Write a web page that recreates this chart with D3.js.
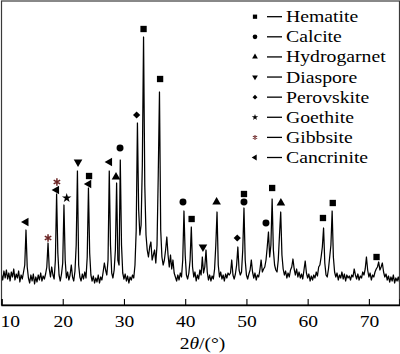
<!DOCTYPE html>
<html>
<head>
<meta charset="utf-8">
<script src="https://cdn.jsdelivr.net/npm/d3@7/dist/d3.min.js"></script>
<style>
  html, body { margin: 0; padding: 0; background: #fff; }
  svg { display: block; }
</style>
</head>
<body>
<div id="chart"></div>
<script>
// XRD pattern, 2theta 10..75 deg sampled every 0.2 deg (intensity in a.u.)
const thetaStart = 10;
const thetaStep = 0.2;
const intensity = [
  30, 25, 34, 27, 35,   26, 32, 24, 33, 28,   36, 25, 31, 27, 34,   23, 30, 26, 33, 40,   // 10-13.8
  75, 38, 27, 22, 30,   24, 31, 21, 28, 23,   30, 25, 32, 24, 29,   26, 31, 38, 62, 36,   // 14-17.8
  28, 38, 30, 26, 45,   111, 52, 30, 24, 31,  42, 100, 45, 27, 33,  25, 30, 40, 28, 24,   // 18-21.8
  34, 60, 134, 40, 28,  24, 31, 26, 33, 27,   48, 117, 52, 30, 24,  29, 22, 27, 23, 30,   // 22-25.8
  22, 28, 25, 33, 42,   35, 30, 45, 134, 60,  32, 27, 35, 55, 122,  45, 40, 145, 60, 32,  // 26-29.8
  26, 31, 24, 29, 22,   28, 25, 30, 27, 40,   75, 182, 95, 70, 80,  140, 268, 120, 70, 55, // 30-33.8
  48, 58, 63, 45, 50,   55, 42, 60, 130, 213, 75, 48, 40, 45, 55,   68, 50, 38, 50, 36,   // 34-37.8
  45, 32, 28, 24, 30,   25, 32, 28, 45, 94,   50, 30, 26, 32, 45,   78, 38, 28, 33, 24,   // 38-41.8
  30, 26, 35, 30, 48,   32, 38, 55, 33, 25,   30, 24, 29, 26, 36,   60, 93, 40, 28, 33,   // 42-45.8
  26, 30, 24, 31, 27,   32, 30, 32, 45, 30,   26, 31, 40, 58, 35,   30, 33, 55, 97, 45,   // 46-49.8
  30, 26, 31, 35, 45,   33, 27, 32, 25, 30,   28, 35, 45, 33, 36,   38, 45, 58, 73, 48,   // 50-53.8
  60, 106, 55, 40, 35,  33, 45, 70, 93, 50,   36, 30, 34, 27, 32,   28, 35, 38, 46, 36,   // 54-57.8
  30, 36, 28, 33, 27,   31, 26, 35, 44, 32,   27, 31, 24, 29, 25,   30, 27, 33, 29, 38,   // 58-61.8
  40, 48, 58, 77, 42,   30, 28, 36, 48, 60,   94, 48, 33, 28, 32,   25, 30, 27, 33, 26,   // 62-65.8
  31, 24, 30, 27, 29,   25, 30, 28, 36, 30,   26, 31, 25, 29, 27,   33, 30, 36, 48, 35,   // 66-69.8
  28, 32, 25, 30, 28,   33, 36, 38, 43, 35,   38, 42, 33, 28, 31,   25, 29, 23, 28, 24,   // 70-73.8
  30, 22, 27, 24, 28,   23                                                                // 74-75
];

// phase labels, in legend order
const phases = ["Hematite", "Calcite", "Hydrogarnet", "Diaspore", "Perovskite", "Goethite", "Gibbsite", "Cancrinite"];

// [2theta, marker height] for each identified reflection
const hematitePeaks = [[24.3, 129], [33.2, 276], [35.9, 226], [41.05, 86], [49.6, 111], [54.2, 117], [62.5, 87], [64.1, 102], [71.25, 48]];
const calcitePeaks = [[29.36, 157], [39.64, 103], [49.6, 103], [53.19, 82]];
const hydrogarnetPeaks = [[28.7, 128], [45.13, 103], [55.63, 102]];
const diasporePeaks = [[22.5, 143], [42.9, 58]];
const perovskitePeaks = [[32.07, 190], [48.5, 67]];
const goethitePeaks = [[20.65, 107]];
const gibbsitePeaks = [[17.6, 67], [19.05, 123]];
const cancrinitePeaks = [[14.0, 83], [19.0, 115], [24.25, 121], [27.65, 143]];

const xTicks = [10, 20, 30, 40, 50, 60, 70];

const W = 400, H = 354;
const margin = { top: 1, right: 0.5, bottom: 49, left: 1.5 };
const serif = "'Liberation Serif', 'Times New Roman', Times, serif";

const svg = d3.select("#chart").append("svg")
  .attr("width", W)
  .attr("height", H)
  .attr("font-family", serif);

const x = d3.scaleLinear()
  .domain([10, 75])
  .range([margin.left, W - margin.right]);

const y = d3.scaleLinear()
  .domain([0, 304])
  .range([H - margin.bottom, margin.top]);

const pattern = intensity.map((v, i) => ({ t: thetaStart + i * thetaStep, v: v }));

// custom asterisk for gibbsite
const asterisk = {
  draw(context, size) {
    const r = Math.sqrt(size) / 2;
    for (let k = 0; k < 3; k++) {
      const a = Math.PI / 2 + k * Math.PI / 3;
      context.moveTo(r * Math.cos(a), r * Math.sin(a));
      context.lineTo(-r * Math.cos(a), -r * Math.sin(a));
    }
  }
};

const phaseStyle = {
  Hematite:    { type: d3.symbolSquare,   size: 40, rot: 0,   stroke: false },
  Calcite:     { type: d3.symbolCircle,   size: 38, rot: 0,   stroke: false },
  Hydrogarnet: { type: d3.symbolTriangle, size: 32, rot: 0,   stroke: false },
  Diaspore:    { type: d3.symbolTriangle, size: 32, rot: 180, stroke: false },
  Perovskite:  { type: d3.symbolSquare,   size: 26, rot: 45,  stroke: false },
  Goethite:    { type: d3.symbolStar,     size: 28, rot: 0,   stroke: false },
  Gibbsite:    { type: asterisk,          size: 56, rot: 0,   stroke: true },
  Cancrinite:  { type: d3.symbolTriangle, size: 32, rot: -90, stroke: false }
};
const peakTable = {
  Hematite: hematitePeaks, Calcite: calcitePeaks, Hydrogarnet: hydrogarnetPeaks,
  Diaspore: diasporePeaks, Perovskite: perovskitePeaks, Goethite: goethitePeaks,
  Gibbsite: gibbsitePeaks, Cancrinite: cancrinitePeaks
};

function drawSymbol(sel, name, scale) {
  const s = phaseStyle[name];
  sel.attr("d", d3.symbol().type(s.type).size(s.size * scale)())
    .attr("fill", s.stroke ? "none" : "#000")
    .attr("stroke", s.stroke ? "#6b2525" : "none")
    .attr("stroke-width", s.stroke ? 1.5 * Math.sqrt(scale) : 0);
  return s.rot;
}

// pattern line
const line = d3.line()
  .x(d => x(d.t))
  .y(d => y(d.v));

svg.append("path")
  .datum(pattern)
  .attr("fill", "none")
  .attr("stroke", "#000")
  .attr("stroke-width", 1.25)
  .attr("stroke-linejoin", "round")
  .attr("d", line);

// peak markers
phases.forEach(name => {
  svg.append("g").selectAll("path")
    .data(peakTable[name])
    .join("path")
    .each(function (d) {
      const rot = drawSymbol(d3.select(this), name, 1);
      d3.select(this).attr("transform", `translate(${x(d[0])},${y(d[1])}) rotate(${rot})`);
    });
});

// frame
svg.append("rect")
  .attr("x", margin.left)
  .attr("y", margin.top)
  .attr("width", W - margin.left - margin.right)
  .attr("height", H - margin.top - margin.bottom)
  .attr("fill", "none")
  .attr("stroke", "#3a3a3a")
  .attr("stroke-width", 1.2);

// bottom axis with inward ticks
const xAxis = svg.append("g")
  .attr("transform", `translate(0,${H - margin.bottom})`)
  .call(d3.axisBottom(x).tickValues(xTicks).tickSize(-6).tickPadding(10).tickFormat(d3.format("d")))
  .attr("font-family", serif)
  .attr("font-size", 17);

xAxis.select(".domain").attr("stroke", "#000").attr("stroke-width", 1.3);
xAxis.selectAll(".tick line").attr("stroke", "#000").attr("stroke-width", 1.1);
xAxis.selectAll(".tick text")
  .attr("fill", "#000")
  .attr("transform", "scale(1.15,1)");
xAxis.selectAll(".tick text").filter(d => d === 10)
  .attr("text-anchor", "start")
  .attr("x", -margin.left / 1.15);

// axis title
const title = svg.append("text")
  .attr("transform", `translate(${(margin.left + W - margin.right) / 2 + 2},${H - 5}) scale(1.15,1)`)
  .attr("text-anchor", "middle")
  .attr("font-size", 17);
title.append("tspan").text("2");
title.append("tspan").attr("font-style", "italic").text("θ");
title.append("tspan").text("/(°)");

// legend
const legend = svg.append("g");
const rowY = d3.scaleLinear().domain([0, 7]).range([16.7, 157.5]);
phases.forEach((name, i) => {
  const cy = rowY(i);
  const sym = legend.append("path");
  const rot = drawSymbol(sym, name, 0.45);
  sym.attr("transform", `translate(255,${cy}) rotate(${rot})`);
  legend.append("line")
    .attr("x1", 267).attr("x2", 282)
    .attr("y1", cy).attr("y2", cy)
    .attr("stroke", "#000")
    .attr("stroke-width", 1.3);
  legend.append("text")
    .attr("transform", `translate(286,${cy + 5.5}) scale(1.16,1)`)
    .attr("font-size", 17)
    .attr("fill", "#000")
    .text(name);
});
</script>
</body>
</html>
